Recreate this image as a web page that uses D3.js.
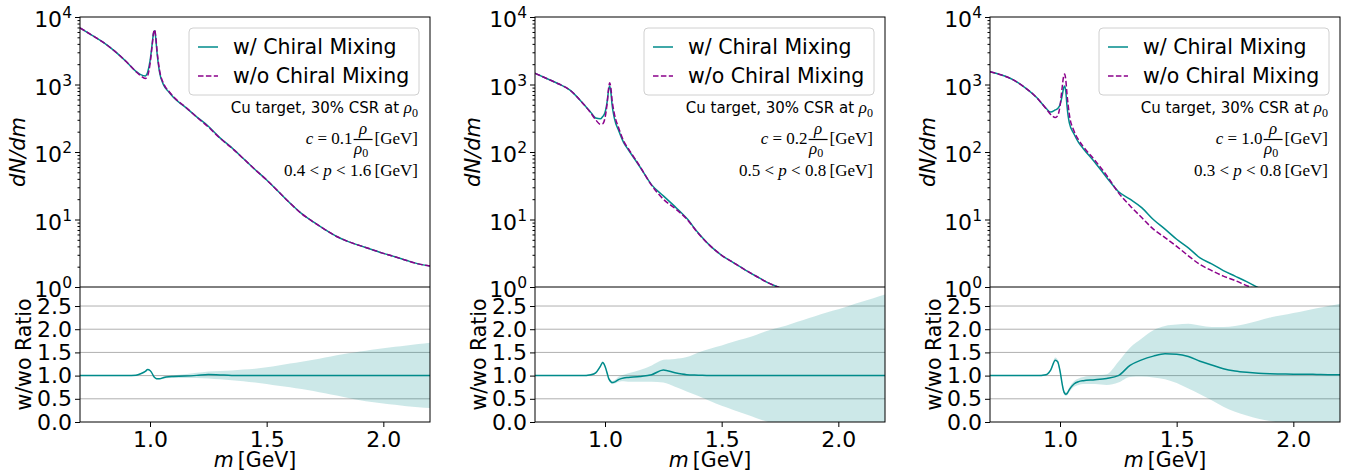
<!DOCTYPE html>
<html>
<head>
<meta charset="utf-8">
<script src="https://cdn.jsdelivr.net/npm/d3@7"></script>
<style>
body { margin: 0; background: #fff; }
svg { display: block; }
</style>
</head>
<body>
<svg id="chart" width="1346" height="473"></svg>
<script>
// invariant mass grid [GeV], shared by all three panels
var mass = [0.70, 0.75, 0.80, 0.85, 0.90, 0.94, 0.96, 0.98, 0.99, 1.00,
    1.01, 1.015, 1.02, 1.025, 1.03, 1.04, 1.06, 1.08, 1.10, 1.15,
    1.20, 1.25, 1.30, 1.35, 1.40, 1.45, 1.50, 1.55, 1.60, 1.65,
    1.70, 1.75, 1.80, 1.85, 1.90, 1.95, 2.00, 2.05, 2.10, 2.15, 2.20];

// panel 1 : c = 0.1
var wo1 = [6900, 5400, 4200, 3100, 2150, 1550, 1350, 1230, 1350, 2000,
    4000, 5800, 6500, 5000, 3200, 1700, 1000, 800, 660, 470,
    330, 235, 160, 115, 80, 55, 38.5, 26, 17.5, 12.2,
    9.2, 7.1, 5.6, 4.7, 4.1, 3.6, 3.15, 2.8, 2.47, 2.2, 2.05];
var w1 = [6900, 5400, 4200, 3100, 2150, 1565, 1404, 1341, 1526, 2220,
    4160, 5742, 6240, 4700, 2976, 1581, 960, 780, 647, 465,
    332, 241, 162, 116, 80, 55, 38.5, 26, 17.5, 12.2,
    9.2, 7.1, 5.6, 4.7, 4.1, 3.6, 3.15, 2.8, 2.47, 2.2, 2.05];
var ratio1 = [1, 1, 1, 1, 1, 1.01, 1.04, 1.09, 1.13, 1.11,
    1.04, 0.99, 0.96, 0.94, 0.93, 0.93, 0.96, 0.975, 0.98, 0.99,
    1.005, 1.025, 1.015, 1.005, 1, 1, 1, 1, 1, 1,
    1, 1, 1, 1, 1, 1, 1, 1, 1, 1, 1];
var lo1 = [0.995, 0.995, 0.995, 0.995, 0.995, 1.0, 1.03, 1.08, 1.12, 1.10,
    1.03, 0.98, 0.95, 0.93, 0.92, 0.915, 0.94, 0.95, 0.95, 0.95,
    0.95, 0.94, 0.92, 0.90, 0.88, 0.85, 0.82, 0.78, 0.75, 0.71,
    0.67, 0.62, 0.57, 0.52, 0.47, 0.43, 0.40, 0.37, 0.34, 0.32, 0.30];
var hi1 = [1.005, 1.005, 1.005, 1.005, 1.005, 1.02, 1.05, 1.10, 1.14, 1.12,
    1.05, 1.0, 0.97, 0.95, 0.94, 0.945, 0.98, 1.0, 1.01, 1.03,
    1.06, 1.09, 1.10, 1.11, 1.13, 1.15, 1.18, 1.22, 1.26, 1.30,
    1.34, 1.39, 1.44, 1.48, 1.52, 1.56, 1.59, 1.62, 1.65, 1.68, 1.71];

// panel 2 : c = 0.2
var wo2 = [1466, 1225, 1025, 826, 552, 375, 300, 258, 262, 320,
    560, 850, 1060, 900, 600, 370, 220, 145, 112, 61,
    32, 20, 14.6, 10.2, 6.2, 4.1, 2.95, 2.3, 1.8, 1.43,
    1.15, 0.97, 0.8, 0.68, 0.58, 0.5, 0.43, 0.37, 0.32, 0.28, 0.25];
var w2 = [1466, 1225, 1025, 826, 552, 383, 318, 310, 335, 384,
    582, 808, 954, 783, 510, 318, 202, 138, 108, 60,
    32.6, 22.4, 15.5, 10.4, 6.3, 4.1, 2.95, 2.3, 1.8, 1.43,
    1.15, 0.97, 0.8, 0.68, 0.58, 0.5, 0.43, 0.37, 0.32, 0.28, 0.25];
var ratio2 = [1, 1, 1, 1, 1, 1.02, 1.06, 1.2, 1.28, 1.2,
    1.04, 0.95, 0.9, 0.87, 0.85, 0.86, 0.92, 0.95, 0.96, 0.98,
    1.02, 1.12, 1.06, 1.02, 1.01, 1, 1, 1, 1, 1,
    1, 1, 1, 1, 1, 1, 1, 1, 1, 1, 1];
var lo2 = [0.99, 0.99, 0.99, 0.99, 0.99, 1.0, 1.04, 1.17, 1.25, 1.17,
    1.01, 0.92, 0.87, 0.84, 0.82, 0.83, 0.87, 0.88, 0.87, 0.87,
    0.87, 0.85, 0.76, 0.66, 0.56, 0.45, 0.35, 0.26, 0.17, 0.08,
    0.0, -0.08, -0.17, -0.25, -0.33, -0.40, -0.48, -0.55, -0.62, -0.70, -0.78];
var hi2 = [1.01, 1.01, 1.01, 1.01, 1.01, 1.04, 1.08, 1.23, 1.31, 1.23,
    1.07, 0.98, 0.93, 0.90, 0.88, 0.90, 0.98, 1.02, 1.05, 1.12,
    1.22, 1.34, 1.36, 1.40, 1.50, 1.58, 1.65, 1.73, 1.80, 1.88,
    1.97, 2.04, 2.12, 2.20, 2.28, 2.36, 2.43, 2.51, 2.59, 2.67, 2.75];

// panel 3 : c = 1.0
var wo3 = [1550, 1380, 1170, 900, 640, 440, 360, 325, 345, 480,
    950, 1300, 1430, 1150, 720, 360, 205, 150, 120, 75,
    45, 25, 16, 10.7, 7.2, 5.4, 4.0, 2.9, 2.15, 1.75,
    1.45, 1.25, 1.05, 0.9, 0.78, 0.68, 0.6, 0.53, 0.47, 0.42, 0.38];
var w3 = [1550, 1380, 1170, 900, 640, 445, 390, 420, 440, 500,
    700, 880, 950, 780, 480, 270, 185, 138, 112, 70,
    42, 26, 20, 15, 10, 7.2, 5.1, 3.8, 2.7, 2.2,
    1.75, 1.45, 1.2, 0.98, 0.84, 0.72, 0.63, 0.55, 0.49, 0.43, 0.39];
var ratio3 = [1, 1, 1, 1, 1, 1.02, 1.12, 1.33, 1.3, 1.1,
    0.8, 0.68, 0.62, 0.6, 0.61, 0.7, 0.82, 0.87, 0.89, 0.91,
    0.94, 1.0, 1.22, 1.34, 1.42, 1.47, 1.46, 1.41, 1.31, 1.23,
    1.15, 1.1, 1.07, 1.05, 1.04, 1.035, 1.03, 1.03, 1.025, 1.02, 1.02];
var lo3 = [0.99, 0.99, 0.99, 0.99, 0.99, 1.0, 1.09, 1.31, 1.26, 1.06,
    0.76, 0.64, 0.58, 0.56, 0.57, 0.65, 0.76, 0.80, 0.82, 0.82,
    0.80, 0.85, 0.97, 0.98, 0.96, 0.92, 0.84, 0.72, 0.60, 0.47,
    0.33, 0.22, 0.14, 0.07, 0.02, -0.02, -0.05, -0.10, -0.12, -0.15, -0.18];
var hi3 = [1.01, 1.01, 1.01, 1.01, 1.01, 1.04, 1.15, 1.39, 1.34, 1.14,
    0.84, 0.72, 0.66, 0.64, 0.65, 0.75, 0.88, 0.94, 0.97, 1.0,
    1.03, 1.30, 1.60, 1.80, 1.98, 2.07, 2.10, 2.12, 2.08, 2.05,
    2.05, 2.07, 2.12, 2.18, 2.25, 2.30, 2.35, 2.40, 2.45, 2.50, 2.55];

// labels
var legendLabels = ["w/ Chiral Mixing", "w/o Chiral Mixing"];
var cValues = ["0.1", "0.2", "1.0"];
var pLow = ["0.4", "0.5", "0.3"];
var pHigh = ["1.6", "0.8", "0.8"];
var logTicks = [1, 10, 100, 1000, 10000];
var logMinor = [2, 3, 4, 5, 6, 7, 8, 9, 20, 30, 40, 50, 60, 70, 80, 90,
    200, 300, 400, 500, 600, 700, 800, 900, 2000, 3000, 4000, 5000, 6000, 7000, 8000, 9000];
var ratioTicks = [0, 0.5, 1.0, 1.5, 2.0, 2.5];
var massTicks = [1.0, 1.5, 2.0];

var panels = [
    {wo: wo1, w: w1, ratio: ratio1, lo: lo1, hi: hi1},
    {wo: wo2, w: w2, ratio: ratio2, lo: lo2, hi: hi2},
    {wo: wo3, w: w3, ratio: ratio3, lo: lo3, hi: hi3}
];

var svg = d3.select("#chart");
var panelLeft = [80, 535, 990],
    panelW = 350,
    topY = 17,
    midY = 287,
    botY = 422;
var sans = "'DejaVu Sans', sans-serif",
    serif = "'Liberation Serif', 'Times New Roman', serif";
var teal = "#008b8b",
    purple = "#8b008b";
var tickFont = 22;

var defs = svg.append("defs");

panels.forEach(function(p, i) {
    var left = panelLeft[i],
        right = left + panelW;

    var x = d3.scaleLinear().domain([0.7, 2.2]).range([left, right]);
    var yLog = d3.scaleLog().domain([1, 1e4]).range([midY, topY]);
    var yRat = d3.scaleLinear().domain([0, 2.91]).range([botY, midY]);

    defs.append("clipPath").attr("id", "clipTop" + i)
        .append("rect").attr("x", left).attr("y", topY)
        .attr("width", panelW).attr("height", midY - topY);
    defs.append("clipPath").attr("id", "clipBot" + i)
        .append("rect").attr("x", left).attr("y", midY)
        .attr("width", panelW).attr("height", botY - midY);

    var idx = d3.range(mass.length);

    // ---------- spectrum panel ----------
    var gTop = svg.append("g").attr("clip-path", "url(#clipTop" + i + ")");

    var specLine = function(arr) {
        return d3.line()
            .x(function(k) { return x(mass[k]); })
            .y(function(k) { return yLog(arr[k]); })
            .curve(d3.curveMonotoneX)(idx);
    };

    gTop.append("path")
        .attr("d", specLine(p.w))
        .attr("fill", "none")
        .attr("stroke", teal)
        .attr("stroke-width", 1.5);

    gTop.append("path")
        .attr("d", specLine(p.wo))
        .attr("fill", "none")
        .attr("stroke", purple)
        .attr("stroke-width", 1.5)
        .attr("stroke-dasharray", "5.5,2.4");

    // ---------- ratio panel ----------
    var gBot = svg.append("g").attr("clip-path", "url(#clipBot" + i + ")");

    gBot.selectAll("line.grid")
        .data(ratioTicks.slice(1))
        .enter()
        .append("line")
        .attr("class", "grid")
        .attr("x1", left).attr("x2", right)
        .attr("y1", function(d) { return yRat(d); })
        .attr("y2", function(d) { return yRat(d); })
        .attr("stroke", "#b0b0b0")
        .attr("stroke-width", 1);

    gBot.append("path")
        .attr("d", d3.area()
            .x(function(k) { return x(mass[k]); })
            .y0(function(k) { return yRat(p.lo[k]); })
            .y1(function(k) { return yRat(p.hi[k]); })
            .curve(d3.curveMonotoneX)(idx))
        .attr("fill", teal)
        .attr("fill-opacity", 0.2);

    gBot.append("path")
        .attr("d", d3.line()
            .x(function(k) { return x(mass[k]); })
            .y(function(k) { return yRat(p.ratio[k]); })
            .curve(d3.curveMonotoneX)(idx))
        .attr("fill", "none")
        .attr("stroke", teal)
        .attr("stroke-width", 1.5);

    // ---------- axes ----------
    var gyMinor = svg.append("g")
        .attr("transform", "translate(" + left + ",0)")
        .call(d3.axisLeft(yLog).tickValues(logMinor).tickSize(2.5).tickSizeOuter(0).tickFormat(""));
    gyMinor.select(".domain").remove();

    var gy = svg.append("g")
        .attr("transform", "translate(" + left + ",0)")
        .call(d3.axisLeft(yLog).tickValues(logTicks).tickSize(5).tickSizeOuter(0).tickFormat(""));
    gy.select(".domain").remove();

    logTicks.forEach(function(v) {
        var t = svg.append("text")
            .attr("x", left - 8)
            .attr("y", yLog(v) + 10)
            .attr("text-anchor", "end")
            .attr("font-family", sans)
            .attr("font-size", tickFont)
            .attr("fill", "#000")
            .text("10");
        t.append("tspan")
            .attr("dy", -9)
            .attr("font-size", 15.5)
            .text(Math.round(Math.log10(v)));
    });

    var gr = svg.append("g")
        .attr("transform", "translate(" + left + ",0)")
        .call(d3.axisLeft(yRat).tickValues(ratioTicks).tickSize(5).tickPadding(3)
            .tickSizeOuter(0).tickFormat(d3.format(".1f")));
    gr.select(".domain").remove();
    gr.selectAll("text").attr("font-family", sans).attr("font-size", tickFont).attr("fill", "#000");

    var gx = svg.append("g")
        .attr("transform", "translate(0," + botY + ")")
        .call(d3.axisBottom(x).tickValues(massTicks).tickSize(5).tickPadding(4)
            .tickSizeOuter(0).tickFormat(d3.format(".1f")));
    gx.select(".domain").remove();
    gx.selectAll("text").attr("font-family", sans).attr("font-size", tickFont).attr("fill", "#000");

    // spines
    svg.append("rect")
        .attr("x", left).attr("y", topY)
        .attr("width", panelW).attr("height", botY - topY)
        .attr("fill", "none")
        .attr("stroke", "#000")
        .attr("stroke-width", 1);
    svg.append("line")
        .attr("x1", left).attr("x2", right)
        .attr("y1", midY).attr("y2", midY)
        .attr("stroke", "#000")
        .attr("stroke-width", 1);

    // axis labels
    svg.append("text")
        .attr("transform", "translate(" + (left - 55) + "," + ((topY + midY) / 2) + ") rotate(-90)")
        .attr("text-anchor", "middle")
        .attr("font-family", sans)
        .attr("font-style", "italic")
        .attr("font-size", 21)
        .text("dN/dm");

    svg.append("text")
        .attr("transform", "translate(" + (left - 49) + "," + ((midY + botY) / 2) + ") rotate(-90)")
        .attr("text-anchor", "middle")
        .attr("font-family", sans)
        .attr("font-size", 20.5)
        .text("w/wo Ratio");

    var xl = svg.append("text")
        .attr("x", left + panelW / 2)
        .attr("y", 467)
        .attr("text-anchor", "middle")
        .attr("font-family", sans)
        .attr("font-size", 20.5);
    xl.append("tspan").attr("font-style", "italic").text("m");
    xl.append("tspan").text("\u2009[GeV]");

    // ---------- legend ----------
    var lg = svg.append("g").attr("transform", "translate(" + (right - 241) + ",28)");
    lg.append("rect")
        .attr("width", 230).attr("height", 67)
        .attr("rx", 4)
        .attr("fill", "#fff").attr("fill-opacity", 0.8)
        .attr("stroke", "#d0d0d0");
    legendLabels.forEach(function(label, k) {
        var ly = 19 + k * 29;
        lg.append("line")
            .attr("x1", 9).attr("x2", 29)
            .attr("y1", ly).attr("y2", ly)
            .attr("stroke", k === 0 ? teal : purple)
            .attr("stroke-width", 1.5)
            .attr("stroke-dasharray", k === 0 ? null : "5.5,2.4");
        lg.append("text")
            .attr("x", 44).attr("y", ly)
            .attr("dy", "0.36em")
            .attr("font-family", sans)
            .attr("font-size", 20.5)
            .text(label);
    });

    // ---------- annotations ----------
    var ax = right - 12;
    var t1 = svg.append("text")
        .attr("x", ax).attr("y", 113)
        .attr("text-anchor", "end")
        .attr("font-family", sans)
        .attr("font-size", 15)
        .text("Cu target, 30% CSR at ");
    t1.append("tspan").attr("font-family", serif).attr("font-style", "italic")
        .attr("font-size", 17).text("\u03c1");
    t1.append("tspan").attr("font-family", serif).attr("font-size", 12)
        .attr("dy", 4).text("0");

    // c = X rho/rho0 [GeV]
    var g2 = svg.append("g");
    var main = g2.append("text")
        .attr("x", 0).attr("y", 144)
        .attr("font-family", serif)
        .attr("font-size", 17);
    main.append("tspan").attr("font-style", "italic").text("c");
    main.append("tspan").text(" = " + cValues[i]);
    var mw = main.node().getComputedTextLength();
    var fw = 19,
        fx = mw + 1;
    g2.append("line")
        .attr("x1", fx).attr("x2", fx + fw)
        .attr("y1", 139.5).attr("y2", 139.5)
        .attr("stroke", "#000").attr("stroke-width", 1.2);
    g2.append("text")
        .attr("x", fx + fw / 2).attr("y", 134)
        .attr("text-anchor", "middle")
        .attr("font-family", serif).attr("font-style", "italic")
        .attr("font-size", 17)
        .text("\u03c1");
    var den = g2.append("text")
        .attr("x", fx + fw / 2 - 2).attr("y", 154)
        .attr("text-anchor", "middle")
        .attr("font-family", serif)
        .attr("font-size", 17);
    den.append("tspan").attr("font-style", "italic").text("\u03c1");
    den.append("tspan").attr("font-size", 12).attr("dy", 3).text("0");
    var gev = g2.append("text")
        .attr("x", fx + fw + 2).attr("y", 144)
        .attr("font-family", serif)
        .attr("font-size", 17)
        .text("[GeV]");
    var total = fx + fw + 2 + gev.node().getComputedTextLength();
    g2.attr("transform", "translate(" + (ax - total) + ",0)");

    var t3 = svg.append("text")
        .attr("x", ax).attr("y", 176)
        .attr("text-anchor", "end")
        .attr("font-family", serif)
        .attr("font-size", 17)
        .text(pLow[i] + " < ");
    t3.append("tspan").attr("font-style", "italic").text("p");
    t3.append("tspan").text(" < " + pHigh[i] + "\u2009[GeV]");
});
</script>
</body>
</html>
